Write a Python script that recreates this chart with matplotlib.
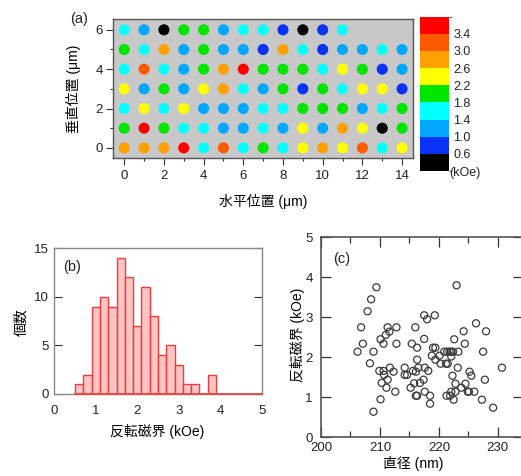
import matplotlib
matplotlib.use("Agg")
import matplotlib.pyplot as plt
from matplotlib.colors import ListedColormap, BoundaryNorm
from matplotlib.cm import ScalarMappable

plt.rcParams['font.family'] = ['Liberation Sans', 'Noto Sans CJK JP', 'DejaVu Sans']
plt.rcParams['font.size'] = 9.5
plt.rcParams['text.color'] = '#222222'
plt.rcParams['xtick.color'] = '#333333'
plt.rcParams['ytick.color'] = '#333333'
plt.rcParams['xtick.labelcolor'] = '#222222'
plt.rcParams['ytick.labelcolor'] = '#222222'

# ---------------- data ----------------
# (a) switching field map (kOe), one list per vertical position (row index = y in um)
row0 = [2.8, 2.8, 2.8, 3.6, 1.6, 3.2, 1.6, 2.0, 1.6, 2.4, 2.8, 2.4, 3.2, 1.6, 2.4]
row1 = [2.0, 3.6, 2.0, 1.6, 1.6, 1.2, 1.2, 1.6, 1.2, 2.4, 1.2, 2.8, 2.4, 0.4, 2.0]
row2 = [1.6, 2.4, 1.6, 2.4, 1.2, 1.2, 1.2, 1.6, 1.6, 2.0, 2.0, 2.0, 1.2, 1.6, 2.0]
row3 = [2.4, 1.2, 2.0, 1.2, 2.4, 2.8, 1.6, 1.2, 2.0, 0.8, 2.0, 1.6, 2.4, 2.4, 0.8]
row4 = [1.6, 3.2, 1.6, 1.2, 2.0, 2.8, 3.6, 2.0, 2.0, 2.0, 1.6, 2.4, 2.0, 0.8, 1.2]
row5 = [2.0, 1.6, 2.8, 1.2, 2.0, 1.2, 1.2, 0.8, 2.8, 1.6, 0.8, 1.2, 1.2, 1.6, 1.2]
row6 = [1.6, 1.2, 0.4, 2.0, 2.0, 1.2, 1.6, 1.6, 0.8, 0.4, 0.8, 1.6]
map_rows = [row0, row1, row2, row3, row4, row5, row6]

cbar_bounds = [0.2, 0.6, 1.0, 1.4, 1.8, 2.2, 2.6, 3.0, 3.4, 3.8]
cbar_ticks = [0.6, 1.0, 1.4, 1.8, 2.2, 2.6, 3.0, 3.4]
cbar_colors = ['#000000', '#0a32f5', '#00a8ff', '#00ffff', '#00e600',
               '#ffff00', '#ffa000', '#ff5a00', '#ff0000']

# (b) histogram of switching field
bin_left = [0.5, 0.7, 0.9, 1.1, 1.3, 1.5, 1.7, 1.9, 2.1, 2.3, 2.5, 2.7, 2.9, 3.1, 3.3, 3.5, 3.7]
bin_counts = [1, 2, 9, 10, 9, 14, 12, 7, 11, 8, 4, 5, 3, 1, 1, 0, 2]
bin_width = 0.2

# (c) diameter (nm) vs switching field (kOe)
diameter = [206.2, 206.8, 207.1, 207.9, 208.5, 208.3, 208.9, 208.9, 209.4, 210.1,
            210.6, 211.0, 211.3, 211.6, 212.8, 212.8, 209.9, 210.6, 210.7, 210.3,
            210.1, 211.3, 211.1, 211.7, 212.3, 212.6,
            214.2, 214.2, 214.6, 215.4, 215.6, 215.2, 216.0, 216.3, 216.3, 216.1,
            216.1, 216.3, 215.8, 216.5, 216.8,
            217.5, 217.5, 218.0, 217.6, 217.4, 217.6, 218.2, 218.5, 218.5, 218.8,
            219.0, 219.3, 219.4, 219.4,
            220.1, 220.3, 220.9, 221.2, 221.3, 221.4, 221.5, 221.9, 221.8, 222.1,
            222.1, 222.4, 222.3, 222.1, 222.5, 222.6,
            223.0, 223.2, 222.8, 222.8, 223.3, 223.8, 224.2, 224.4, 224.5, 224.9,
            225.1, 225.2, 225.5, 226.0, 226.3, 227.3, 227.5, 227.8, 228.0, 229.2, 230.7]
field = [2.14, 2.75, 2.34, 3.15, 3.45, 1.85, 2.14, 0.64, 3.75, 2.45,
         2.34, 2.56, 2.75, 2.64, 2.75, 2.34, 1.66, 1.66, 1.56, 1.36,
         0.95, 1.44, 1.24, 1.74, 1.64, 1.14,
         1.74, 1.56, 1.56, 2.34, 1.66, 1.24, 2.75, 2.24, 1.94, 1.64,
         1.04, 1.04, 1.35, 1.74, 1.36,
         2.46, 3.05, 2.95, 1.74, 1.44, 1.14, 1.66, 1.04, 0.84, 2.04,
         2.24, 3.05, 2.24, 1.94,
         2.04, 1.84, 2.14, 1.84, 1.04, 2.14, 1.84, 1.04, 2.14, 2.02,
         2.14, 2.14, 1.54, 1.14, 0.94, 2.45,
         3.80, 1.74, 1.34, 1.14, 2.14, 1.24, 2.65, 2.34, 1.34, 1.14,
         1.14, 1.64, 1.54, 1.14, 2.85, 0.94, 2.14, 1.44, 2.65, 0.74, 1.74]

# ---------------- figure ----------------
W, H = 521, 476
fig = plt.figure(figsize=(W / 100, H / 100), dpi=100)


def add_px_axes(l, t, r, b):
    return fig.add_axes([l / W, 1 - b / H, (r - l) / W, (b - t) / H])


# ----- panel (a) -----
ax_a = add_px_axes(112.7, 19, 413, 157.7)
ax_a.set_facecolor('#c8c8c8')
cmap = ListedColormap(cbar_colors)
norm = BoundaryNorm(cbar_bounds, cmap.N)
xs, ys, vs = [], [], []
for yi, row in enumerate(map_rows):
    for xi, v in enumerate(row):
        xs.append(xi)
        ys.append(yi)
        vs.append(v)
ax_a.scatter(xs, ys, c=vs, cmap=cmap, norm=norm, s=64, linewidths=0, zorder=3)
ax_a.set_xlim(-0.58, 14.55)
ax_a.set_ylim(-0.5, 6.55)
ax_a.set_xticks(range(0, 15, 2))
ax_a.set_xticks(range(1, 15, 2), minor=True)
ax_a.set_yticks([0, 2, 4, 6])
ax_a.set_yticks([1, 3, 5], minor=True)
ax_a.tick_params(which='major', direction='out', length=5, width=0.8, pad=2)
ax_a.tick_params(axis='x', which='major', pad=4)
ax_a.tick_params(which='minor', direction='out', length=2.5, width=0.8)
for sp in ax_a.spines.values():
    sp.set_color('#555555')
    sp.set_linewidth(1.0)
ax_a.set_xlabel('水平位置 (μm)', fontsize=10)
ax_a.set_ylabel('垂直位置 (μm)', fontsize=10)
ax_a.xaxis.label.set_va('center')
ax_a.yaxis.label.set_va('center')
ax_a.xaxis.set_label_coords(0.5, -0.312)
ax_a.yaxis.set_label_coords(-0.132, 0.5)
fig.text(79 / W, 1 - 19 / H, '(a)', ha='center', va='center', fontsize=10.5)

# colorbar
cax = add_px_axes(420, 16.7, 449, 171)
cb = fig.colorbar(ScalarMappable(norm=norm, cmap=cmap), cax=cax, ticks=cbar_ticks)
cb.outline.set_visible(False)
cax.tick_params(length=0, pad=3, labelsize=9)
cax.set_yticklabels([f'{t:.1f}' for t in cbar_ticks])
cax.text(1.0, -0.012, '(kOe)', transform=cax.transAxes, ha='left', va='center', fontsize=9)

# ----- panel (b) -----
ax_b = add_px_axes(54.3, 248.3, 261.7, 394)
ax_b.bar(bin_left, bin_counts, width=bin_width, align='edge',
         color='#ffc4c4', edgecolor='#ee3b3b', linewidth=1.0, zorder=3)
ax_b.plot([bin_left[0], 5], [0, 0], color='#ee3b3b', lw=1.2, zorder=4, clip_on=False)
ax_b.set_xlim(0, 5)
ax_b.set_ylim(0, 15)
ax_b.set_xticks(range(0, 6))
ax_b.set_yticks([0, 5, 10, 15])
ax_b.tick_params(axis='y', direction='in', left=True, right=True, length=6, width=0.8, pad=4)
ax_b.tick_params(axis='x', direction='in', length=0, pad=8)
for sp in ax_b.spines.values():
    sp.set_color('#888888')
    sp.set_linewidth(1.0)
ax_b.set_xlabel('反転磁界 (kOe)', fontsize=10)
ax_b.set_ylabel('個数', fontsize=10)
ax_b.xaxis.label.set_va('center')
ax_b.yaxis.label.set_va('center')
ax_b.xaxis.set_label_coords(0.494, -0.259)
ax_b.yaxis.set_label_coords(-0.157, 0.496)
fig.text(71.7 / W, 1 - 267.3 / H, '(b)', ha='center', va='center', fontsize=10.5)

# ----- panel (c) -----
ax_c = add_px_axes(321, 237.3, 522.6, 437.3)
ax_c.scatter(diameter, field, s=26, facecolors='none', edgecolors='#3a3a3a',
             linewidths=0.9, zorder=3)
ax_c.set_xlim(200, 234.2)
ax_c.set_ylim(0, 5)
ax_c.set_xticks([200, 210, 220, 230])
ax_c.set_xticks([205, 215, 225], minor=True)
ax_c.set_yticks(range(0, 6))
ax_c.tick_params(which='major', direction='in', top=True, right=True, length=7.5, width=0.9)
ax_c.tick_params(which='minor', direction='in', top=True, right=True, length=4, width=0.9)
ax_c.tick_params(axis='x', which='major', pad=3.5)
ax_c.tick_params(axis='y', which='major', pad=6)
for sp in ax_c.spines.values():
    sp.set_color('#555555')
    sp.set_linewidth(1.2)
ax_c.set_xlabel('直径 (nm)', fontsize=10)
ax_c.set_ylabel('反転磁界 (kOe)', fontsize=10)
ax_c.xaxis.label.set_va('center')
ax_c.yaxis.label.set_va('center')
ax_c.xaxis.set_label_coords(0.456, -0.13)
ax_c.yaxis.set_label_coords(-0.119, 0.51)
fig.text(341.7 / W, 1 - 259.3 / H, '(c)', ha='center', va='center', fontsize=10.5)

fig.savefig('out.png', dpi=100)
